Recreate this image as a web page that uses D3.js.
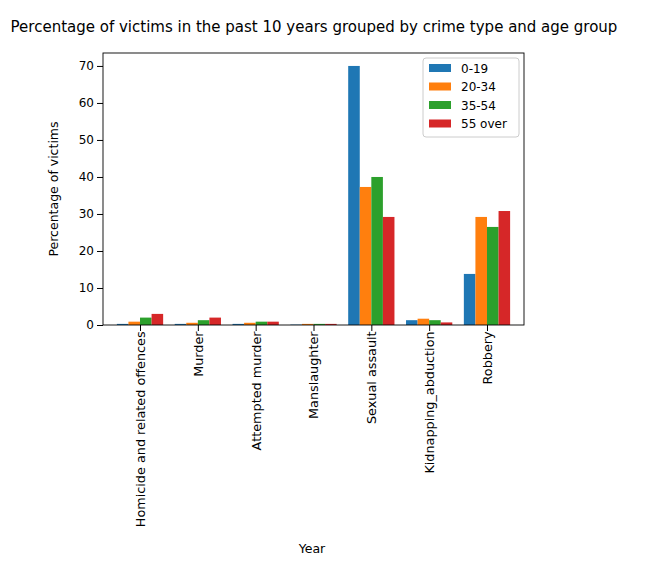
<!DOCTYPE html>
<html><head><meta charset="utf-8">
<script src="https://cdn.jsdelivr.net/npm/d3@7"></script>
<style>body{margin:0;background:#fff;font-family:"DejaVu Sans",sans-serif;}</style>
</head><body><svg id="c" width="671" height="569"></svg>
<script>
var categories = ["Homicide and related offences","Murder","Attempted murder","Manslaughter","Sexual assault","Kidnapping_abduction","Robbery"];
var groups = ["0-19","20-34","35-54","55 over"];
var colors = ["#1f77b4","#ff7f0e","#2ca02c","#d62728"];
var v0_19 = [0.3,0.3,0.3,0.1,70.0,1.3,13.8];
var v20_34 = [0.9,0.6,0.6,0.3,37.3,1.7,29.2];
var v35_54 = [2.0,1.3,0.9,0.3,40.0,1.3,26.5];
var v55 = [3.0,2.0,0.9,0.3,29.2,0.7,30.8];
var series = [v0_19,v20_34,v35_54,v55];
var yTicks = [0,10,20,30,40,50,60,70];

var svg = d3.select("#c");
var L=103,R=524,T=53,B=325;
var x = d3.scaleLinear().domain([-0.64,6.64]).range([L,R]);
var bw = 0.2;
var y = d3.scaleLinear().domain([0,73.5]).range([B,T]);

groups.forEach(function(g,gi){
  svg.append("g").selectAll("rect").data(series[gi]).enter().append("rect")
    .attr("x",function(d,i){return x(i-0.4+gi*bw);})
    .attr("width",x(bw)-x(0))
    .attr("y",function(d){return y(d);})
    .attr("height",function(d){return B-y(d);})
    .attr("fill",colors[gi]);
});

var ya = svg.append("g").attr("transform","translate("+L+",0)").call(d3.axisLeft(y).tickValues(yTicks).tickSizeOuter(0));
var xa = svg.append("g").attr("transform","translate(0,"+B+")")
  .call(d3.axisBottom(x).tickValues(d3.range(categories.length)).tickFormat(function(i){return categories[i];}).tickSizeOuter(0));
[ya,xa].forEach(function(a){a.selectAll("text").attr("font-size",12).attr("fill","#000").attr("font-family","DejaVu Sans");a.select(".domain").remove();});
xa.selectAll("text").attr("font-size",12.8).attr("transform","rotate(-90)").attr("text-anchor","end").attr("dx","-0.5em").attr("dy","0.35em").attr("x",0).attr("y",0);
svg.append("rect").attr("x",L).attr("y",T).attr("width",R-L).attr("height",B-T).attr("fill","none").attr("stroke","#000").attr("stroke-width",0.9);

svg.append("text").attr("x",314).attr("y",32).attr("text-anchor","middle").attr("font-size",15).text("Percentage of victims in the past 10 years grouped by crime type and age group");
svg.append("text").attr("transform","translate(58,189) rotate(-90)").attr("text-anchor","middle").attr("font-size",12.5).text("Percentage of victims");
svg.append("text").attr("x",312).attr("y",553).attr("text-anchor","middle").attr("font-size",12.5).text("Year");

var lg = svg.append("g");
lg.append("rect").attr("x",423).attr("y",58).attr("width",96).attr("height",79).attr("rx",3).attr("fill","#fff").attr("stroke","#ccc");
groups.forEach(function(g,i){
  lg.append("rect").attr("x",429).attr("y",64+i*18.5).attr("width",22).attr("height",8).attr("fill",colors[i]);
  lg.append("text").attr("x",461).attr("y",72.5+i*18.5).attr("font-size",12).text(g);
});
</script></body></html>
